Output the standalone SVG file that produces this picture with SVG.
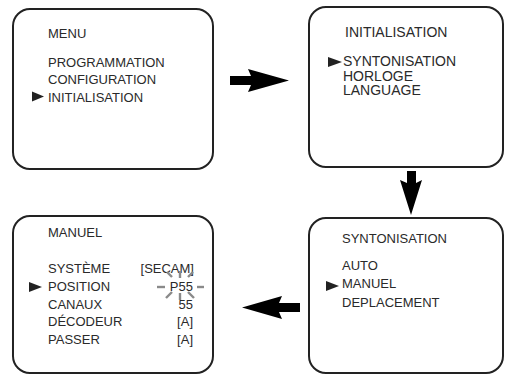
<svg xmlns="http://www.w3.org/2000/svg" width="505" height="376" viewBox="0 0 505 376">
<defs>
<style>
.box{fill:#fff;stroke:#222;stroke-width:2}
.t{font-family:"Liberation Sans",Arial,sans-serif;font-size:13px;fill:#2a2a2a}
.t14{font-size:14px}
.bul{fill:#222}
.arr{fill:#000}
.ray{stroke:#8a8a8a;stroke-width:2.4;stroke-linecap:butt}
</style>
</defs>
<rect width="505" height="376" fill="#fff"/>
<g id="menu">
<rect class="box" x="13" y="9" width="200" height="160" rx="17"/>
<text class="t" x="48" y="38">MENU</text>
<text class="t" x="48" y="66.5">PROGRAMMATION</text>
<text class="t" x="48" y="84">CONFIGURATION</text>
<text class="t" x="48" y="101.5">INITIALISATION</text>
<path class="bul" d="M32,91.5 L44,96.5 L32,101.5 Z"/>
</g>
<g id="initialisation">
<rect class="box" x="309" y="7" width="194" height="160" rx="17"/>
<text class="t t14" x="345" y="37">INITIALISATION</text>
<text class="t t14" x="343" y="66">SYNTONISATION</text>
<text class="t t14" x="343" y="80.5">HORLOGE</text>
<text class="t t14" x="343" y="95">LANGUAGE</text>
<path class="bul" d="M328,57 L342,62 L328,67 Z"/>
</g>
<g id="syntonisation">
<rect class="box" x="309" y="218" width="194" height="155" rx="17"/>
<text class="t" x="342" y="243">SYNTONISATION</text>
<text class="t" x="342" y="270">AUTO</text>
<text class="t" x="342" y="288">MANUEL</text>
<text class="t" x="342" y="306.5">DEPLACEMENT</text>
<path class="bul" d="M326,281 L339,286 L326,291 Z"/>
</g>
<g id="manuel">
<rect class="box" x="13" y="216" width="200" height="157" rx="17"/>
<text class="t" x="48" y="237">MANUEL</text>
<text class="t" x="48" y="273">SYSTÈME</text>
<text class="t" x="48" y="291">POSITION</text>
<text class="t" x="48" y="308.5">CANAUX</text>
<text class="t" x="48" y="326">DÉCODEUR</text>
<text class="t" x="48" y="344">PASSER</text>
<path class="bul" d="M29,282 L42,287 L29,292 Z"/>
<text class="t" x="194" y="273" text-anchor="end">[SECAM]</text>
<text class="t" x="193" y="291" text-anchor="end">P55</text>
<text class="t" x="193" y="308.5" text-anchor="end">55</text>
<text class="t" x="193" y="326" text-anchor="end">[A]</text>
<text class="t" x="193" y="344" text-anchor="end">[A]</text>
<g class="ray">
<line x1="157" y1="287" x2="165" y2="287"/>
<line x1="197" y1="287" x2="204" y2="287"/>
<line x1="180" y1="271" x2="180" y2="278"/>
<line x1="167" y1="272" x2="172" y2="277"/>
<line x1="193" y1="272" x2="188" y2="277"/>
<line x1="180" y1="293" x2="180" y2="300"/>
<line x1="166" y1="298" x2="172" y2="292"/>
<line x1="194" y1="298" x2="188" y2="292"/>
</g>
</g>
<g id="connectors">
<path class="arr" d="M230,76 L251,76 L248,69 L289,80.5 L248,92 L251,85 L230,85 Z"/>
<path class="arr" d="M407,171 L416,171 L416,183 L422,180 L411,215 L400,180 L407,183 Z"/>
<path class="arr" d="M300,303 L279,303 L282,296 L242,307.5 L282,319 L279,312 L300,312 Z"/>
</g>
</svg>
